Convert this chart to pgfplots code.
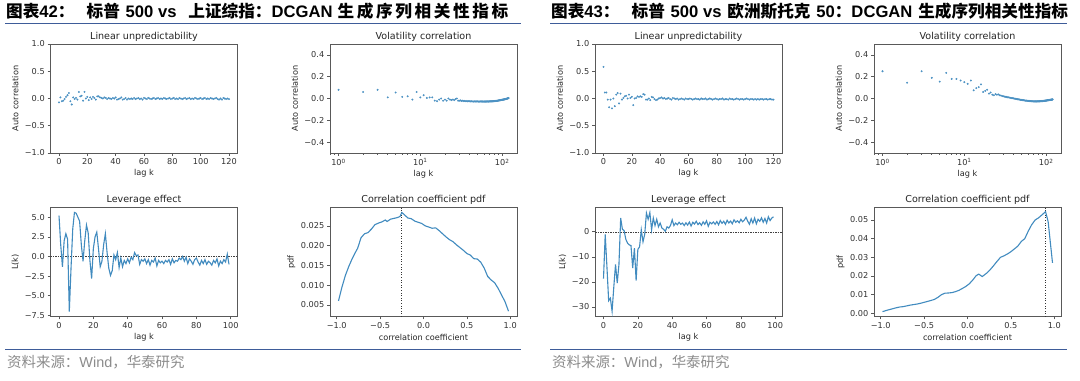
\documentclass[border=0pt]{standalone}
\usepackage{fontspec}
\usepackage{pgfplots}
\pgfplotsset{compat=1.18}
\usepackage{pgfplotstable}
\setmainfont{DejaVu Sans}
\newfontfamily\cjk{Noto Sans CJK SC}
\newfontfamily\lib{Liberation Sans}
\definecolor{mpl}{HTML}{1F77B4}
\definecolor{hdrline}{HTML}{3E5C99}
\definecolor{srcgray}{HTML}{8C8C8C}

\pgfplotstableread{
k v
0 -0.07
1 0.02
2 -0.05
3 -0.04
4 -0.01
5 0.03
6 0.06
7 0.10
8 -0.05
9 -0.11
10 0.02
11 -0.01
12 0.01
13 -0.02
14 0.12
15 0.04
16 0.05
17 -0.04
18 0.12
19 0.00
20 0.03
21 -0.03
22 0.02
23 -0.01
24 0.03
25 0.01
26 -0.02
27 0.04
28 0.04
29 0.02
30 0.01
31 0.00
32 0.02
33 0.01
34 -0.01
35 0.01
36 0.00
37 -0.01
38 0.01
39 0.00
40 0.02
41 -0.02
42 -0.01
43 0.00
44 0.02
45 -0.02
46 -0.01
47 0.01
48 -0.02
49 0.00
50 -0.01
51 0.00
52 -0.01
53 0.01
54 -0.01
55 0.00
56 0.01
57 -0.01
58 0.00
59 -0.02
60 0.01
61 0.00
62 -0.01
63 0.01
64 0.00
65 -0.01
66 0.00
67 0.01
68 -0.01
69 0.00
70 0.01
71 -0.01
72 0.00
73 -0.01
74 0.01
75 0.00
76 -0.01
77 0.00
78 0.01
79 -0.01
80 0.00
81 0.01
82 -0.01
83 0.00
84 -0.01
85 0.01
86 0.00
87 -0.01
88 0.00
89 0.01
90 -0.01
91 0.00
92 0.01
93 -0.01
94 0.00
95 -0.01
96 0.01
97 0.00
98 -0.01
99 0.00
100 0.01
101 -0.01
102 0.00
103 0.01
104 -0.01
105 0.00
106 -0.01
107 0.01
108 0.00
109 -0.01
110 0.00
111 0.01
112 -0.01
113 -0.02
114 0.00
115 -0.02
116 0.01
117 0.00
118 -0.01
119 0.00
120 -0.01
}\luA

\pgfplotstableread{
k v
1 0.080
2 0.060
3 0.080
4 0.010
5 0.055
6 0.015
7 0.020
8 -0.010
9 0.060
10 0.010
11 0.030
12 0.005
13 0.010
14 0.010
15 -0.020
16 -0.025
17 -0.010
18 0.000
19 -0.020
20 -0.010
21 -0.020
22 0.000
23 -0.010
24 -0.015
25 -0.010
26 -0.015
27 -0.005
28 0.000
29 -0.020
30 -0.020
31 -0.018
32 -0.022
33 -0.020
34 -0.024
35 -0.022
36 -0.025
37 -0.023
38 -0.026
39 -0.024
40 -0.025
41 -0.027
42 -0.025
43 -0.027
44 -0.026
45 -0.028
46 -0.026
47 -0.027
48 -0.028
49 -0.026
50 -0.027
51 -0.028
52 -0.027
53 -0.028
54 -0.026
55 -0.028
56 -0.027
57 -0.029
58 -0.027
59 -0.028
60 -0.028
61 -0.027
62 -0.029
63 -0.027
64 -0.028
65 -0.027
66 -0.028
67 -0.026
68 -0.028
69 -0.027
70 -0.027
71 -0.026
72 -0.027
73 -0.025
74 -0.027
75 -0.026
76 -0.025
77 -0.026
78 -0.024
79 -0.025
80 -0.024
81 -0.023
82 -0.024
83 -0.022
84 -0.023
85 -0.021
86 -0.022
87 -0.020
88 -0.021
89 -0.019
90 -0.019
91 -0.018
92 -0.018
93 -0.016
94 -0.017
95 -0.015
96 -0.015
97 -0.014
98 -0.013
99 -0.013
100 -0.012
101 -0.011
102 -0.011
103 -0.010
104 -0.009
105 -0.009
106 -0.008
107 -0.007
108 -0.007
109 -0.006
110 -0.005
111 -0.004
112 -0.004
113 -0.003
114 -0.002
115 -0.001
116 0.000
117 0.001
118 0.002
119 0.003
120 0.005
}\volA

\pgfplotstableread{
k v
0 5.2
1 1.5
2 -1.3
3 2.0
4 2.9
5 2.2
6 -7.0
7 -1.5
8 3.5
9 5.6
10 5.5
11 5.0
12 4.5
13 1.5
14 -0.6
15 2.0
16 4.0
17 3.0
18 -0.5
19 -2.8
20 1.0
21 2.5
22 3.1
23 1.0
24 -1.3
25 -0.6
26 1.5
27 2.9
28 0.5
29 -1.5
30 -2.4
31 -1.8
32 0.2
33 -0.4
34 0.5
35 -1.4
36 -0.2
37 -1.3
38 -0.5
39 -0.9
40 -0.3
41 -0.8
42 -0.1
43 -0.4
44 0.5
45 0.1
46 0.2
47 -1.0
48 -0.4
49 -0.6
50 -0.3
51 -0.9
52 -0.4
53 -1.1
54 -0.5
55 -0.7
56 -0.2
57 -1.2
58 -0.5
59 -0.8
60 -0.6
61 -0.9
62 -0.5
63 -0.7
64 -0.4
65 -1.0
66 -0.3
67 -0.8
68 -0.5
69 -0.6
70 -0.2
71 -0.4
72 0.0
73 -0.6
74 -0.1
75 -0.9
76 -0.3
77 -0.6
78 -1.0
79 -0.4
80 -0.2
81 -0.7
82 -1.1
83 -0.5
84 -0.9
85 -0.4
86 -1.0
87 -0.6
88 -0.8
89 -1.1
90 -0.5
91 -0.8
92 -0.3
93 -1.2
94 -0.6
95 -0.9
96 -0.4
97 -0.7
98 0.3
99 -1.0
}\levA

\pgfplotstableread{
x p
-0.98 0.0060
-0.94 0.0095
-0.90 0.0125
-0.86 0.0148
-0.82 0.0168
-0.78 0.0185
-0.76 0.0193
-0.72 0.0220
-0.68 0.0230
-0.64 0.0233
-0.60 0.0242
-0.56 0.0253
-0.52 0.0257
-0.48 0.0260
-0.44 0.0265
-0.42 0.0261
-0.38 0.0267
-0.34 0.0269
-0.30 0.0271
-0.27 0.0274
-0.25 0.0284
-0.22 0.0278
-0.18 0.0270
-0.14 0.0268
-0.10 0.0262
-0.06 0.0259
-0.02 0.0256
0.02 0.0250
0.06 0.0247
0.10 0.0244
0.14 0.0245
0.18 0.0238
0.22 0.0230
0.26 0.0222
0.30 0.0215
0.34 0.0210
0.38 0.0202
0.42 0.0195
0.46 0.0188
0.50 0.0180
0.54 0.0176
0.58 0.0167
0.62 0.0166
0.66 0.0158
0.70 0.0143
0.74 0.0122
0.78 0.0113
0.82 0.0106
0.86 0.0092
0.90 0.0075
0.94 0.0058
0.98 0.0034
}\pdfA

\pgfplotstableread{
k v
0 0.58
1 0.11
2 0.11
3 -0.02
4 -0.16
5 -0.02
6 -0.18
7 0.00
8 -0.14
9 0.07
10 0.10
11 -0.09
12 0.09
13 -0.02
14 0.01
15 0.04
16 0.05
17 0.00
18 0.07
19 0.01
20 0.03
21 -0.12
22 0.00
23 0.01
24 0.04
25 0.03
26 0.04
27 0.03
28 0.08
29 0.07
30 -0.02
31 -0.02
32 0.00
33 -0.03
34 0.03
35 0.02
36 -0.01
37 -0.03
38 -0.02
39 0.00
40 0.01
41 0.02
42 0.00
43 0.01
44 -0.01
45 0.00
46 0.01
47 -0.01
48 -0.02
49 0.01
50 0.00
51 -0.01
52 0.00
53 -0.02
54 -0.01
55 0.00
56 -0.01
57 -0.02
58 0.00
59 -0.01
60 -0.01
61 0.00
62 -0.01
63 -0.02
64 -0.01
65 0.00
66 -0.01
67 -0.01
68 -0.02
69 0.00
70 -0.01
71 -0.01
72 0.00
73 -0.02
74 -0.01
75 0.00
76 -0.01
77 -0.02
78 -0.01
79 0.00
80 -0.01
81 -0.02
82 -0.01
83 -0.01
84 0.00
85 -0.02
86 -0.01
87 -0.01
88 -0.02
89 0.00
90 -0.01
91 -0.01
92 -0.02
93 -0.01
94 0.00
95 -0.01
96 -0.02
97 -0.01
98 -0.01
99 -0.02
100 -0.01
101 0.00
102 -0.01
103 -0.02
104 -0.01
105 -0.01
106 -0.02
107 -0.01
108 -0.02
109 -0.01
110 -0.02
111 -0.01
112 -0.01
113 -0.02
114 -0.01
115 -0.01
116 -0.02
117 -0.01
118 -0.01
119 -0.02
120 -0.02
}\luB

\pgfplotstableread{
k v
1 0.250
2 0.145
3 0.250
4 0.190
5 0.155
6 0.235
7 0.180
8 0.180
9 0.165
10 0.150
11 0.135
12 0.165
13 0.075
14 0.095
15 0.105
16 0.130
17 0.060
18 0.070
19 0.080
20 0.045
21 0.055
22 0.035
23 0.030
24 0.040
25 0.035
26 0.038
27 0.030
28 0.028
29 0.022
30 0.020
31 0.018
32 0.015
33 0.014
34 0.011
35 0.010
36 0.008
37 0.006
38 0.004
39 0.003
40 0.001
41 -0.001
42 -0.002
43 -0.004
44 -0.005
45 -0.007
46 -0.008
47 -0.009
48 -0.011
49 -0.012
50 -0.013
51 -0.014
52 -0.015
53 -0.016
54 -0.017
55 -0.018
56 -0.019
57 -0.020
58 -0.020
59 -0.021
60 -0.022
61 -0.022
62 -0.023
63 -0.023
64 -0.024
65 -0.024
66 -0.025
67 -0.025
68 -0.025
69 -0.026
70 -0.026
71 -0.026
72 -0.027
73 -0.026
74 -0.027
75 -0.026
76 -0.027
77 -0.026
78 -0.026
79 -0.027
80 -0.026
81 -0.026
82 -0.025
83 -0.026
84 -0.025
85 -0.025
86 -0.024
87 -0.025
88 -0.024
89 -0.023
90 -0.024
91 -0.023
92 -0.022
93 -0.023
94 -0.021
95 -0.022
96 -0.020
97 -0.021
98 -0.019
99 -0.020
100 -0.018
101 -0.019
102 -0.017
103 -0.018
104 -0.016
105 -0.017
106 -0.015
107 -0.016
108 -0.014
109 -0.015
110 -0.013
111 -0.014
112 -0.012
113 -0.013
114 -0.011
115 -0.012
116 -0.010
117 -0.011
118 -0.009
119 -0.010
120 -0.008
}\volB

\pgfplotstableread{
k v
0 -18.7
1 -1.0
2 -14.0
3 -27.5
4 -26.5
5 -31.7
6 -22.0
7 -13.0
8 -20.5
9 -13.0
10 5.5
11 1.0
12 0.5
13 -3.0
14 -4.5
15 -5.2
16 -5.5
17 -14.5
18 -6.5
19 -19.5
20 -7.0
21 -6.0
22 0.8
23 -4.0
24 -1.0
25 7.5
26 5.0
27 7.7
28 0.8
29 5.5
30 2.5
31 5.0
32 2.0
33 3.5
34 1.5
35 1.0
36 0.2
37 2.0
38 1.5
39 2.5
40 4.8
41 2.5
42 3.5
43 2.8
44 3.8
45 3.0
46 3.5
47 2.5
48 3.6
49 2.7
50 3.9
51 2.3
52 3.8
53 3.1
54 4.2
55 2.9
56 3.6
57 2.6
58 4.0
59 3.0
60 4.4
61 2.2
62 3.8
63 3.2
64 3.9
65 3.0
66 4.1
67 2.8
68 4.5
69 3.4
70 4.2
71 3.0
72 4.6
73 3.5
74 4.3
75 3.2
76 4.8
77 3.8
78 4.4
79 3.6
80 5.0
81 4.0
82 4.7
83 5.8
84 4.2
85 3.0
86 5.2
87 3.5
88 5.5
89 3.2
90 5.0
91 4.2
92 5.6
93 3.8
94 5.3
95 3.5
96 6.0
97 4.5
98 5.5
99 6.0
}\levB

\pgfplotstableread{
x p
-0.98 0.0009
-0.94 0.0015
-0.90 0.0020
-0.86 0.0025
-0.82 0.0030
-0.78 0.0034
-0.74 0.0036
-0.70 0.0040
-0.66 0.0044
-0.62 0.0047
-0.58 0.0050
-0.54 0.0054
-0.50 0.0059
-0.46 0.0064
-0.42 0.0069
-0.38 0.0075
-0.34 0.0086
-0.30 0.0100
-0.26 0.0108
-0.22 0.0109
-0.18 0.0111
-0.14 0.0116
-0.10 0.0123
-0.06 0.0133
-0.02 0.0144
0.02 0.0158
0.06 0.0178
0.10 0.0202
0.13 0.0210
0.17 0.0197
0.22 0.0215
0.26 0.0233
0.30 0.0255
0.34 0.0278
0.38 0.0300
0.42 0.0308
0.46 0.0318
0.50 0.0330
0.54 0.0345
0.58 0.0360
0.62 0.0385
0.66 0.0400
0.70 0.0440
0.74 0.0475
0.78 0.0500
0.82 0.0512
0.86 0.0528
0.90 0.0545
0.93 0.0490
0.98 0.0270
}\pdfB

\pgfplotsset{
  mp/.style={
    scale only axis, width=187bp, height=109bp, anchor=north west,
    axis line style={black!65, line width=0.64bp},
    every tick/.style={black!65, line width=0.64bp},
    tick align=outside,
    major tick length=2.8bp, minor tick length=1.6bp,
    xtick pos=left, ytick pos=left,
    scaled x ticks=false, scaled y ticks=false,
    tick label style={font=\fontsize{8.2}{9}\selectfont, text=black!80},
    xticklabel style={anchor=north, inner sep=0pt, yshift=-2.8bp},
    yticklabel style={anchor=east, inner sep=0pt, xshift=-2.8bp},
    label style={font=\fontsize{8.2}{9}\selectfont, text=black!85},
    xlabel style={at={(ticklabel cs:0.5,8.5bp)}, anchor=center, inner sep=0pt},
    ylabel style={at={(ticklabel cs:0.5,9.5bp)}, anchor=center, inner sep=0pt},
    title style={font=\fontsize{9.6}{11}\selectfont, text=black!85, at={(0.5,1)}, anchor=center, yshift=1.5bp, inner sep=0pt},
  },
  scat/.style={only marks, mark=*, mark size=0.75bp, color=mpl!80, mark options={draw=none, fill=mpl!80}},
  ln/.style={color=mpl!85, line width=1.1bp, mark=none},
  lu/.style={mp, title={Linear unpredictability}, xlabel={lag k}, ylabel={Auto correlation},
    xmin=-6, xmax=126, ymin=-1, ymax=1,
    xtick={0,20,40,60,80,100,120}, xticklabels={0,20,40,60,80,100,120},
    ytick={-1,-0.5,0,0.5,1}, yticklabels={−1.0,−0.5,0.0,0.5,1.0}},
  vol/.style={mp, title={Volatility correlation}, xlabel={lag k}, ylabel={Auto correlation},
    xmin=0.787, xmax=152, ymin=-0.5, ymax=0.5,
    xtick={1,10,100}, xticklabels={10\textsuperscript{0},10\textsuperscript{1},10\textsuperscript{2}},
    minor xtick={0.8,0.9,2,3,4,5,6,7,8,9,20,30,40,50,60,70,80,90},
    ytick={-0.4,-0.2,0,0.2,0.4}, yticklabels={−0.4,−0.2,0.0,0.2,0.4}},
  lev/.style={mp, title={Leverage effect}, xlabel={lag k}, ylabel={L(k)},
    xmin=-4.95, xmax=103.95,
    xtick={0,20,40,60,80,100}, xticklabels={0,20,40,60,80,100}},
  pdfst/.style={mp, title={Correlation coefficient pdf}, xlabel={correlation coefficient}, ylabel={pdf},
    xmin=-1.078, xmax=1.078,
    xtick={-1,-0.5,0,0.5,1}, xticklabels={−1.0,−0.5,0.0,0.5,1.0}},
}

\newcommand\hd{\fontsize{16.7}{19}\selectfont\bfseries}

\begin{document}
\begin{tikzpicture}
\fill[white] (0,0) rectangle (1080bp,-381bp);
\path[use as bounding box] (0,0) rectangle (1080bp,-381bp);

% headers
\node[anchor=base west, inner sep=0pt] at (6bp,-17.5bp) {\hd\hbox to 502bp{{\cjk 图表}{\lib 42}{\cjk ：}\hspace{12bp}{\cjk 标普} {\lib 500 vs}\hspace{6bp} {\cjk 上证综指：}{\lib DCGAN}\hspace{5bp}{\cjk 生\hfil 成\hfil 序\hfil 列\hfil 相\hfil 关\hfil 性\hfil 指\hfil 标}}};
\node[anchor=base west, inner sep=0pt] at (551bp,-17.5bp) {\hd{\cjk 图表}{\lib 43}{\cjk ：}\hspace{12bp}{\cjk 标普} {\lib 500 vs} {\cjk 欧洲斯托克} {\lib 50}{\cjk ：}{\lib DCGAN} {\cjk 生成序列相关性指标}};
\draw[hdrline, line width=1bp] (5bp,-23.5bp) -- (521bp,-23.5bp);
\draw[hdrline, line width=1bp] (550bp,-23.5bp) -- (1067bp,-23.5bp);
\draw[hdrline, line width=1.2bp] (5bp,-349.3bp) -- (521bp,-349.3bp);
\draw[hdrline, line width=1.2bp] (550bp,-349.3bp) -- (1067bp,-349.3bp);
\node[anchor=west, inner sep=0pt] at (7bp,-362bp) {\color{srcgray}\fontsize{14.5}{16}\selectfont{\cjk 资料来源：}{\lib Wind}{\cjk ，华泰研究}};
\node[anchor=west, inner sep=0pt] at (552bp,-362bp) {\color{srcgray}\fontsize{14.5}{16}\selectfont{\cjk 资料来源：}{\lib Wind}{\cjk ，华泰研究}};

% Panel 1
\begin{axis}[lu, at={(50.5bp,-44bp)}]
\addplot[scat] table[x=k,y=v] {\luA};
\end{axis}
\begin{semilogxaxis}[vol, at={(330bp,-44bp)}]
\addplot[scat] table[x=k,y=v] {\volA};
\end{semilogxaxis}
\begin{axis}[lev, at={(50.5bp,-207.5bp)}, ymin=-7.63, ymax=6.23,
  ytick={-7.5,-5,-2.5,0,2.5,5}, yticklabels={−7.5,−5.0,−2.5,0.0,2.5,5.0}]
\addplot[black!75, dash pattern=on 1.5bp off 1bp, line width=0.5bp] coordinates {(-4.95,0) (103.95,0)};
\addplot[ln] table[x=k,y=v] {\levA};
\end{axis}
\begin{axis}[pdfst, at={(330bp,-207.5bp)}, ymin=0.00205, ymax=0.02965,
  ytick={0.005,0.01,0.015,0.02,0.025}, yticklabels={0.005,0.010,0.015,0.020,0.025}]
\addplot[black!80, dotted, line width=0.6bp] coordinates {(-0.26,0.00205) (-0.26,0.02965)};
\addplot[ln] table[x=x,y=p] {\pdfA};
\end{axis}

% Panel 2
\begin{axis}[lu, at={(595bp,-44bp)}]
\addplot[scat] table[x=k,y=v] {\luB};
\end{axis}
\begin{semilogxaxis}[vol, at={(874bp,-44bp)}]
\addplot[scat] table[x=k,y=v] {\volB};
\end{semilogxaxis}
\begin{axis}[lev, at={(595bp,-207.5bp)}, ymin=-33.8, ymax=9.7,
  ytick={-30,-20,-10,0}, yticklabels={−30,−20,−10,0}]
\addplot[black!75, dash pattern=on 1.5bp off 1bp, line width=0.5bp] coordinates {(-4.95,0) (103.95,0)};
\addplot[ln] table[x=k,y=v] {\levB};
\end{axis}
\begin{axis}[pdfst, at={(874bp,-207.5bp)}, ymin=-0.0017, ymax=0.0567,
  ytick={0,0.01,0.02,0.03,0.04,0.05}, yticklabels={0.00,0.01,0.02,0.03,0.04,0.05}]
\addplot[black!80, dotted, line width=0.6bp] coordinates {(0.90,-0.0017) (0.90,0.0567)};
\addplot[ln] table[x=x,y=p] {\pdfB};
\end{axis}
\end{tikzpicture}
\end{document}
